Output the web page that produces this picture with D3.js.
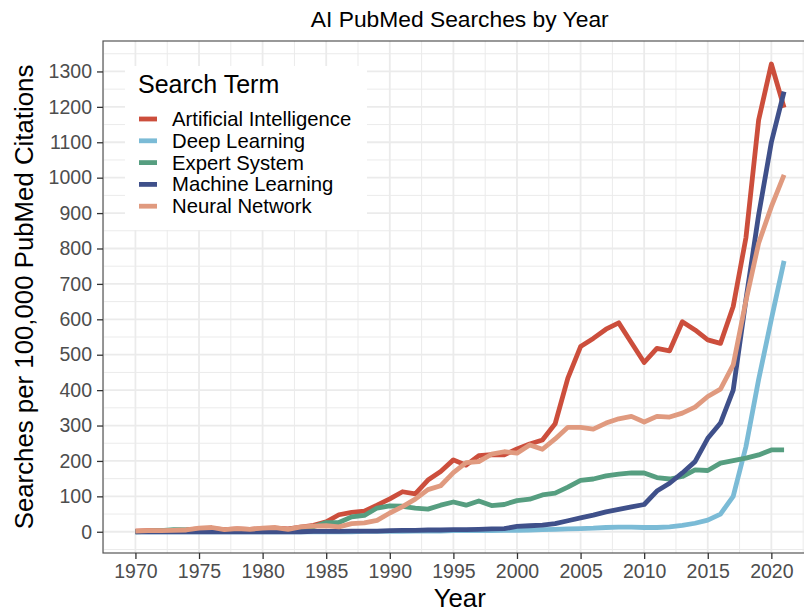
<!DOCTYPE html>
<html>
<head>
<meta charset="utf-8">
<script src="https://cdn.jsdelivr.net/npm/d3@7"></script>
<style>
  html, body { margin: 0; padding: 0; background: #fff; }
  svg { display: block; font-family: "Liberation Sans", Arial, Helvetica, sans-serif; }
</style>
</head>
<body>
<svg id="chart" width="804" height="614"></svg>
<script>
const years = [1970,1971,1972,1973,1974,1975,1976,1977,1978,1979,
  1980,1981,1982,1983,1984,1985,1986,1987,1988,1989,
  1990,1991,1992,1993,1994,1995,1996,1997,1998,1999,
  2000,2001,2002,2003,2004,2005,2006,2007,2008,2009,
  2010,2011,2012,2013,2014,2015,2016,2017,2018,2019,
  2020,2021];

const seriesNames = ["Artificial Intelligence","Deep Learning","Expert System","Machine Learning","Neural Network"];

const artificialIntelligence = [2,3,3,4,5,8,9,6,8,7,
  9,10,8,13,18,28,48,55,58,75,
  93,113,107,146,170,203,188,215,218,217,
  234,248,259,305,434,523,546,572,590,534,
  478,518,511,593,570,542,532,636,830,1163,
  1321,1198];

const deepLearning = [0,0,0,0,0,0,0,0,0,0,
  0,0,0,0,0,0,0,0,1,1,
  1,1,2,2,2,3,3,3,3,4,
  4,5,6,7,8,9,10,12,13,13,
  12,12,14,18,24,33,50,100,240,430,
  600,765];

const expertSystem = [0,1,3,6,5,5,7,3,4,3,
  5,6,7,9,14,26,26,42,46,67,
  73,72,67,64,75,84,75,87,74,77,
  88,92,104,109,126,145,149,158,163,166,
  166,153,149,156,175,173,194,201,208,217,
  231,231];

const machineLearning = [0,0,0,0,0,0,0,0,0,0,
  0,0,0,0,1,1,1,2,2,2,
  3,4,4,5,5,6,6,7,8,9,
  15,17,19,23,31,39,47,56,63,70,
  77,115,137,166,198,264,307,400,655,895,
  1100,1243];

const neuralNetwork = [2,3,3,4,5,10,12,6,9,7,
  10,12,7,14,16,17,14,23,25,32,
  53,71,92,119,130,167,195,198,219,226,
  222,245,233,262,295,295,290,307,319,326,
  310,326,324,335,352,382,403,471,652,815,
  918,1008];

const seriesValues = [artificialIntelligence, deepLearning, expertSystem, machineLearning, neuralNetwork];
const seriesColors = ["#CC4E3C","#7BBBD6","#569E80","#3F508A","#E09A7F"];

const xTicks = [1970,1975,1980,1985,1990,1995,2000,2005,2010,2015,2020];
const yTicks = [0,100,200,300,400,500,600,700,800,900,1000,1100,1200,1300];

const svg = d3.select("#chart");
const panel = {left: 103, right: 816.5, top: 41, bottom: 553};

const x = d3.scaleLinear().domain([1967.45, 2023.55]).range([panel.left, panel.right]);
const y = d3.scaleLinear().domain([-60, 1386]).range([panel.bottom, panel.top]);

const g = svg.append("g");

g.append("rect").attr("x", panel.left).attr("y", panel.top)
  .attr("width", panel.right - panel.left).attr("height", panel.bottom - panel.top)
  .attr("fill", "#fff");

// minor grid
const xMinor = xTicks.map(t => t - 2.5).concat([xTicks[xTicks.length-1] + 2.5]);
const yMinor = yTicks.map(t => t - 50).concat([yTicks[yTicks.length-1] + 50]);
g.selectAll(".vminor").data(xMinor).enter().append("line")
  .attr("x1", d => x(d)).attr("x2", d => x(d)).attr("y1", panel.top).attr("y2", panel.bottom)
  .attr("stroke", "#EBEBEB").attr("stroke-width", 1);
g.selectAll(".hminor").data(yMinor).enter().append("line")
  .attr("y1", d => y(d)).attr("y2", d => y(d)).attr("x1", panel.left).attr("x2", panel.right)
  .attr("stroke", "#EBEBEB").attr("stroke-width", 1);
// major grid
g.selectAll(".vmajor").data(xTicks).enter().append("line")
  .attr("x1", d => x(d)).attr("x2", d => x(d)).attr("y1", panel.top).attr("y2", panel.bottom)
  .attr("stroke", "#EBEBEB").attr("stroke-width", 1.8);
g.selectAll(".hmajor").data(yTicks).enter().append("line")
  .attr("y1", d => y(d)).attr("y2", d => y(d)).attr("x1", panel.left).attr("x2", panel.right)
  .attr("stroke", "#EBEBEB").attr("stroke-width", 1.8);

// lines
const line = d3.line().x(d => x(d[0])).y(d => y(d[1]));
seriesValues.forEach((vals, i) => {
  g.append("path")
    .datum(years.map((yr, j) => [yr, vals[j]]))
    .attr("d", line)
    .attr("fill", "none")
    .attr("stroke", seriesColors[i])
    .attr("stroke-width", 4.8)
    .attr("stroke-linejoin", "round")
    .attr("stroke-linecap", "butt");
});

// panel border
g.append("rect").attr("x", panel.left).attr("y", panel.top)
  .attr("width", panel.right - panel.left).attr("height", panel.bottom - panel.top)
  .attr("fill", "none").attr("stroke", "#555").attr("stroke-width", 1.2);

// axes
const xAxis = d3.axisBottom(x).tickValues(xTicks).tickFormat(d3.format("d")).tickSize(6).tickPadding(4);
const yAxis = d3.axisLeft(y).tickValues(yTicks).tickFormat(d3.format("d")).tickSize(6).tickPadding(5);

const gx = svg.append("g").attr("transform", `translate(0,${panel.bottom})`).call(xAxis);
const gy = svg.append("g").attr("transform", `translate(${panel.left},0)`).call(yAxis);
[gx, gy].forEach(a => {
  a.select(".domain").remove();
  a.selectAll(".tick line").attr("stroke", "#333").attr("stroke-width", 1.3);
  a.selectAll(".tick text").attr("fill", "#4D4D4D").style("font-size", "19.5px")
    .style("font-family", '"Liberation Sans", Arial, sans-serif');
});
gx.selectAll(".tick text").attr("dy", "0.75em");

// title
svg.append("text").attr("x", (panel.left + panel.right) / 2).attr("y", 27)
  .attr("text-anchor", "middle").style("font-size", "22.8px").attr("fill", "#000")
  .text("AI PubMed Searches by Year");

// axis titles
svg.append("text").attr("x", (panel.left + panel.right) / 2).attr("y", 607)
  .attr("text-anchor", "middle").style("font-size", "25.8px").attr("fill", "#000")
  .text("Year");
svg.append("text").attr("transform", `translate(33,${(panel.top + panel.bottom) / 2}) rotate(-90)`)
  .attr("text-anchor", "middle").style("font-size", "25.8px").attr("fill", "#000")
  .text("Searches per 100,000 PubMed Citations");

// legend
const lg = svg.append("g");
lg.append("rect").attr("x", 125).attr("y", 66).attr("width", 242).attr("height", 164).attr("fill", "#fff");
lg.append("text").attr("x", 138).attr("y", 92.5).style("font-size", "25px").attr("fill", "#000").text("Search Term");
seriesNames.forEach((name, i) => {
  const cy = 119 + i * 21.8;
  lg.append("line").attr("x1", 139).attr("x2", 157).attr("y1", cy).attr("y2", cy)
    .attr("stroke", seriesColors[i]).attr("stroke-width", 4.8);
  lg.append("text").attr("x", 172).attr("y", cy + 7).style("font-size", "20.3px").attr("fill", "#000").text(name);
});
</script>
</body>
</html>
